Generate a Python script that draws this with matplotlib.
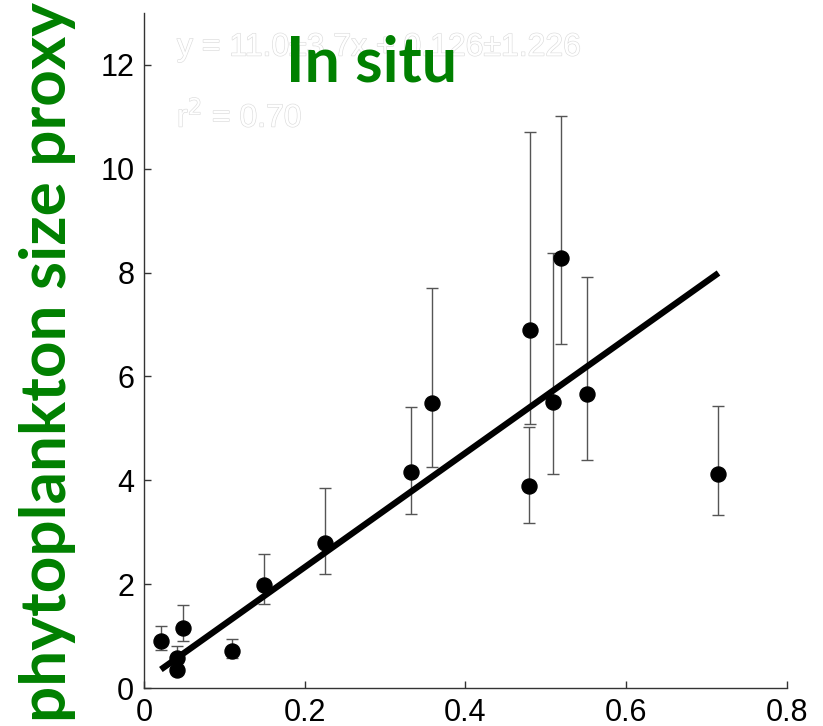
import matplotlib
matplotlib.use("Agg")
import matplotlib.pyplot as plt
import matplotlib.patheffects as pe
import numpy as np

# ── data: in situ size proxy vs. x ────────────────────────────────────────
x_vals = [0.021, 0.041, 0.041, 0.048, 0.110, 0.149, 0.225, 0.3325, 0.359,
          0.479, 0.481, 0.509, 0.519, 0.551, 0.715]
y_vals = [0.90, 0.57, 0.34, 1.15, 0.71, 1.98, 2.80, 4.15, 5.49,
          3.89, 6.89, 5.51, 8.28, 5.66, 4.13]
y_hi = [1.20, 0.81, 0.42, 1.60, 0.94, 2.59, 3.85, 5.42, 7.71,
        5.02, 10.70, 8.37, 11.02, 7.91, 5.43]
y_lo = [0.73, 0.40, 0.28, 0.91, 0.58, 1.61, 2.20, 3.36, 4.25,
        3.18, 5.08, 4.12, 6.62, 4.40, 3.33]

slope = 11.0
intercept = 0.126
x_ticks = [0, 0.2, 0.4, 0.6, 0.8]
x_labels = ["0", "0.2", "0.4", "0.6", "0.8"]
y_ticks = [0, 2, 4, 6, 8, 10, 12]

GREEN = "#008000"

fig = plt.figure(figsize=(8.23, 7.26), dpi=100)
ax = fig.add_axes([0.175, 0.0523, 0.781, 0.93])

x = np.array(x_vals)
y = np.array(y_vals)
yerr = np.vstack([y - np.array(y_lo), np.array(y_hi) - y])

ax.errorbar(x, y, yerr=yerr, fmt="none", ecolor="#555555",
            elinewidth=1.0, capsize=4.2, capthick=1.0, zorder=2)

xf = np.array([x.min(), x.max()])
ax.plot(xf, slope * xf + intercept, color="black", linewidth=4.5,
        solid_capstyle="butt", zorder=3)

ax.plot(x, y, "o", color="black", markersize=10.8, zorder=4)

ax.set_xlim(0, 0.8)
ax.set_ylim(0, 13)
ax.set_xticks(x_ticks)
ax.set_xticklabels(x_labels)
ax.set_yticks(y_ticks)

for side in ["top", "right"]:
    ax.spines[side].set_visible(False)
for side in ["left", "bottom"]:
    ax.spines[side].set_color("#333333")
    ax.spines[side].set_linewidth(1.0)

ax.tick_params(direction="in", length=5, width=1.0, color="#333333",
               labelsize=22, pad=7)
for lab in ax.get_xticklabels() + ax.get_yticklabels():
    lab.set_family("Liberation Sans")

# faint regression annotation (white letters, pale outline)
ghost = [pe.Stroke(linewidth=0.9, foreground="#dcdcdc"), pe.Normal()]
ax.text(0.041, 12.62, "y = 11.0±3.7x + 0.126±1.226", color="white",
        fontsize=23, family="Liberation Sans", va="top", path_effects=ghost)
ax.text(0.041, 11.3, "r$^2$ = 0.70", color="white",
        fontsize=23, family="Liberation Sans", va="top", path_effects=ghost)

ax.text(0.283, 12.58, "In situ", color=GREEN, fontsize=45, fontweight="bold",
        family="Lato", ha="center", va="top", zorder=5)

fig.text(0.058, 0.502, "phytoplankton size proxy", color=GREEN, fontsize=46,
         fontweight="bold", family="Lato", rotation=90,
         ha="center", va="center")

fig.savefig("out.png", dpi=100)
